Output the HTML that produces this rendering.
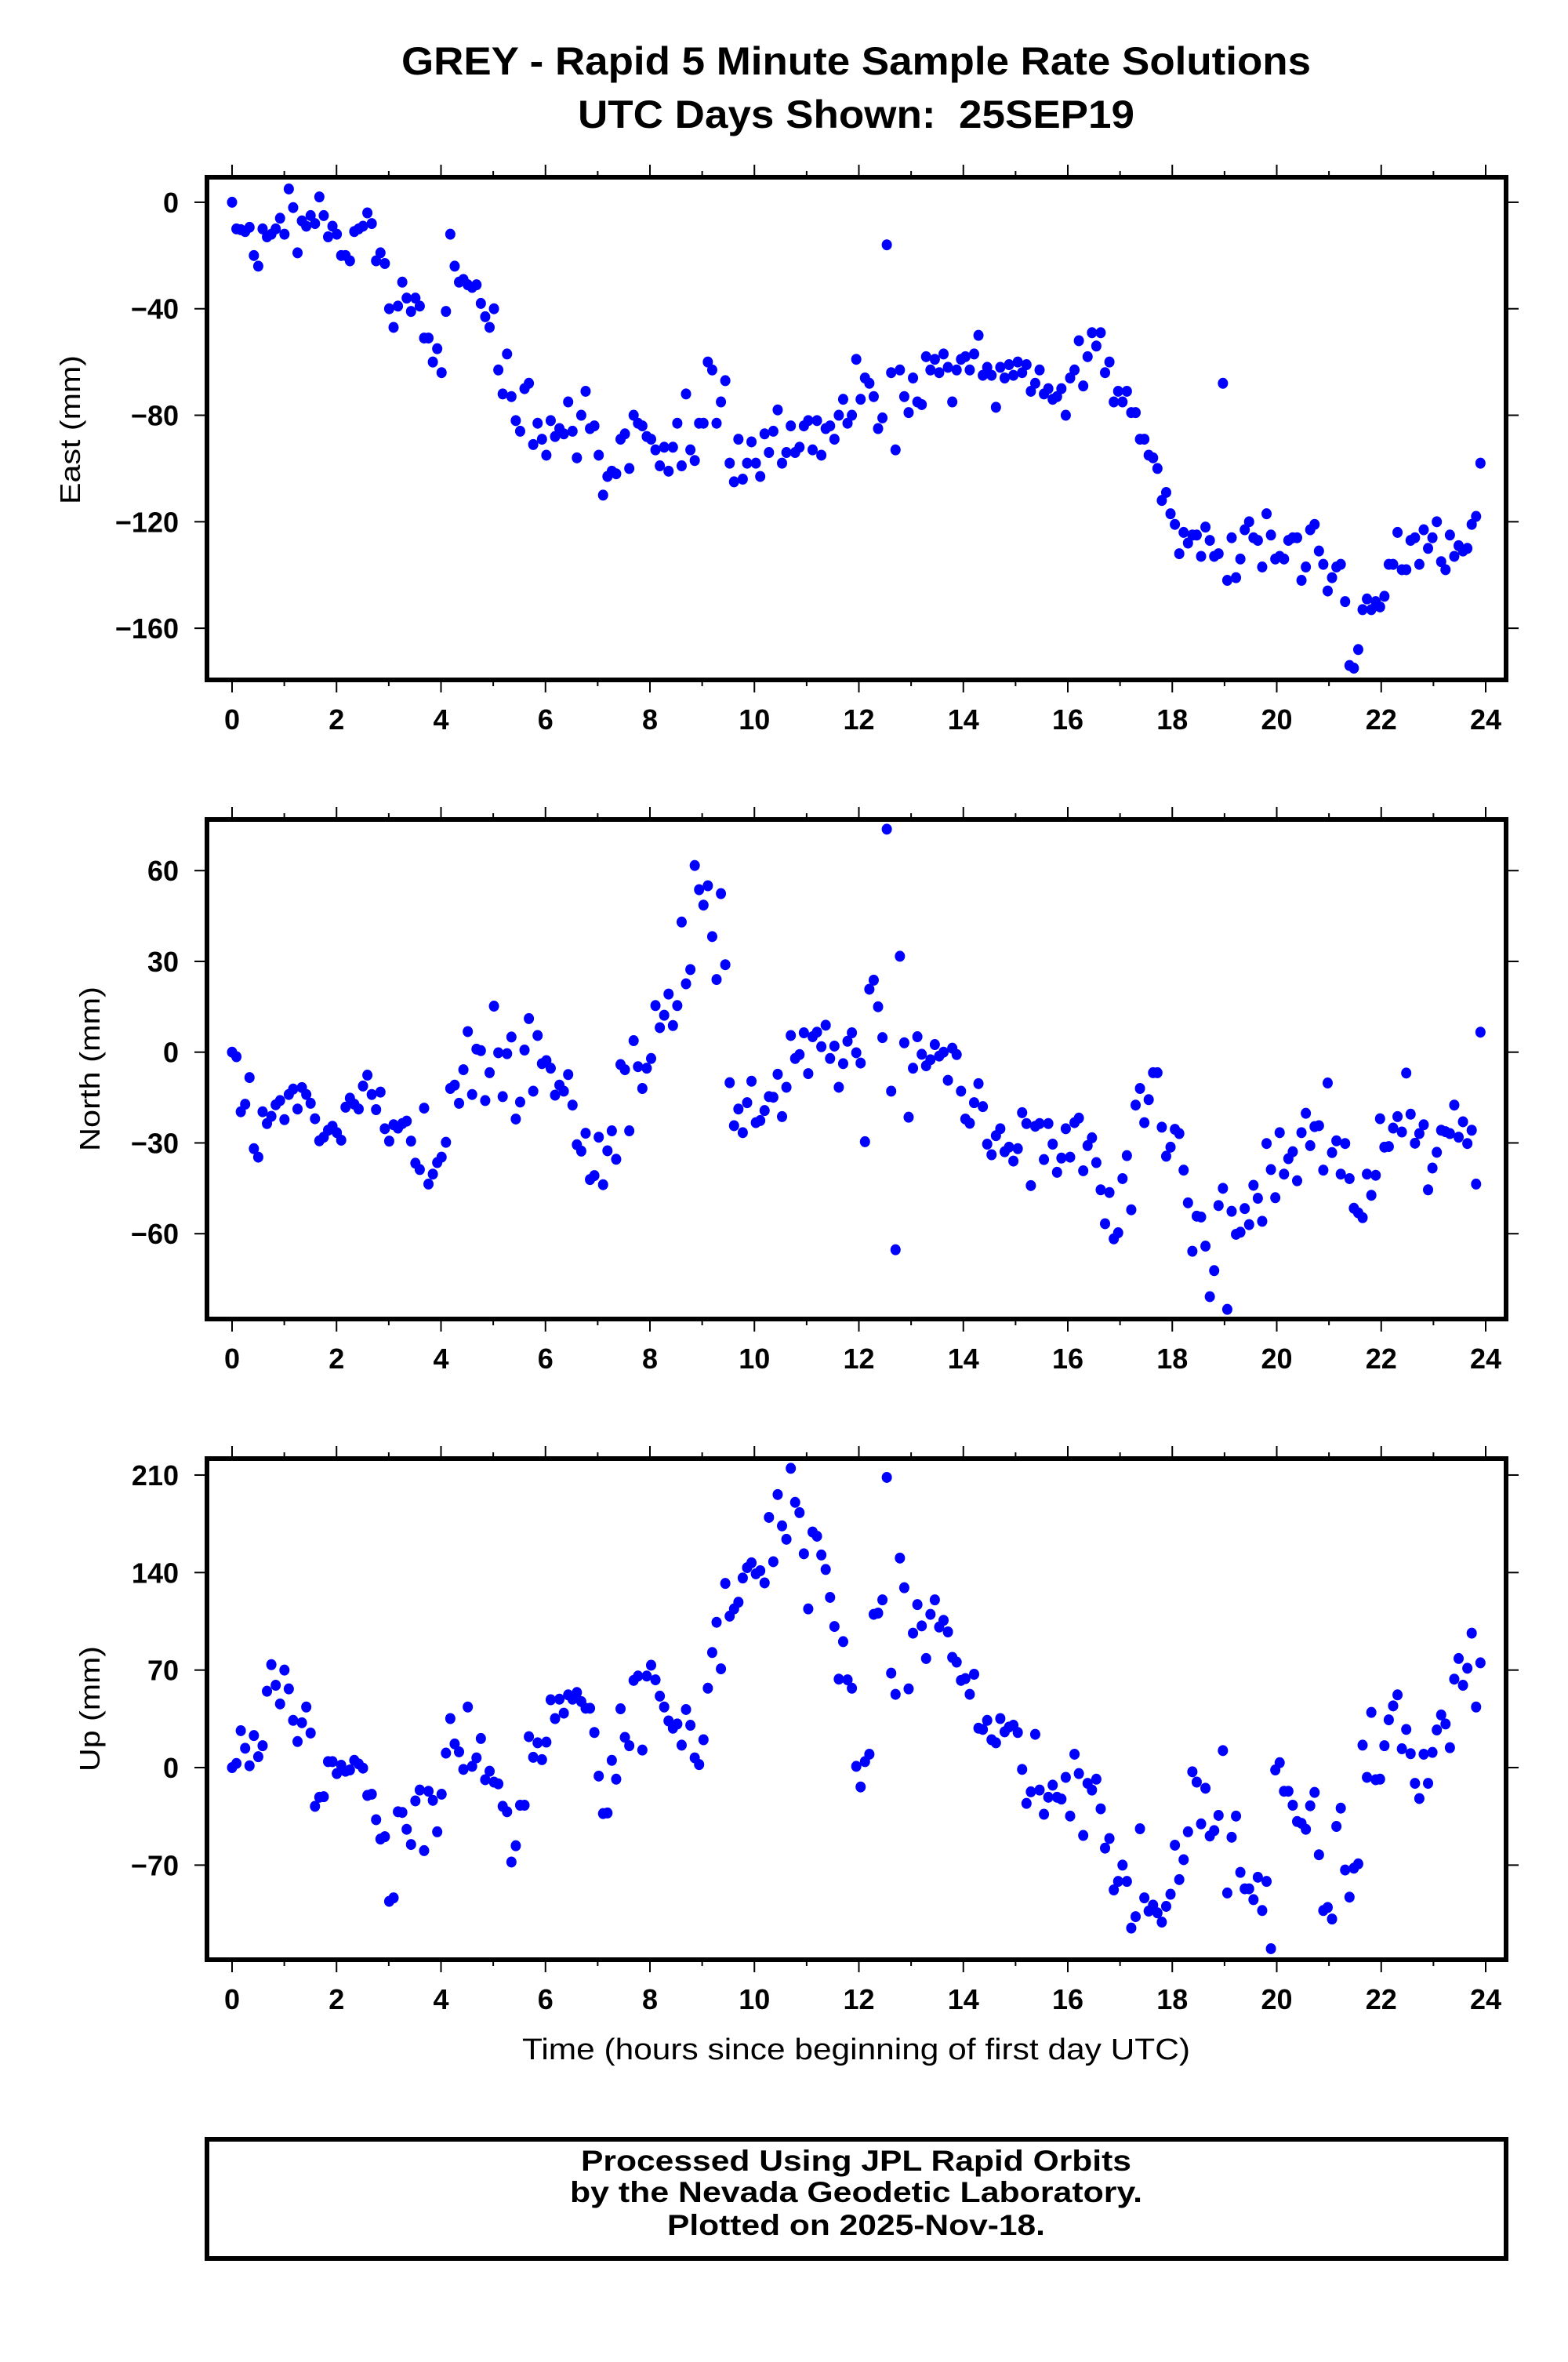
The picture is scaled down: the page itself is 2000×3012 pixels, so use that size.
<!DOCTYPE html>
<html><head><meta charset="utf-8"><style>
html,body{margin:0;padding:0;background:#fff;}
svg{display:block;font-family:"Liberation Sans",Arial,sans-serif;}
</style></head><body>
<svg id="chart" width="2000" height="3012" viewBox="0 0 2000 3012" xmlns="http://www.w3.org/2000/svg">
<rect x="0" y="0" width="2000" height="3012" fill="#fff"/>
<text x="1092" y="95" text-anchor="middle" font-weight="bold" font-size="50" textLength="1160" lengthAdjust="spacingAndGlyphs">GREY - Rapid 5 Minute Sample Rate Solutions</text>
<text x="1092" y="163" text-anchor="middle" font-weight="bold" font-size="50" textLength="710" lengthAdjust="spacingAndGlyphs">UTC Days Shown:&#160; 25SEP19</text>
<text transform="translate(102,548) rotate(-90)" text-anchor="middle" font-size="36" textLength="190" lengthAdjust="spacingAndGlyphs">East (mm)</text>
<text transform="translate(127,1363) rotate(-90)" text-anchor="middle" font-size="36" textLength="210" lengthAdjust="spacingAndGlyphs">North (mm)</text>
<text transform="translate(127,2179) rotate(-90)" text-anchor="middle" font-size="36" textLength="160" lengthAdjust="spacingAndGlyphs">Up (mm)</text>
<text x="1092" y="2626" text-anchor="middle" font-size="38" textLength="852" lengthAdjust="spacingAndGlyphs">Time (hours since beginning of first day UTC)</text>
<rect x="264" y="2728" width="1657" height="152" fill="none" stroke="#000" stroke-width="6"/>
<text x="1092" y="2768" text-anchor="middle" font-weight="bold" font-size="37" textLength="702" lengthAdjust="spacingAndGlyphs">Processed Using JPL Rapid Orbits</text>
<text x="1092" y="2808" text-anchor="middle" font-weight="bold" font-size="37" textLength="730" lengthAdjust="spacingAndGlyphs">by the Nevada Geodetic Laboratory.</text>
<text x="1092" y="2850" text-anchor="middle" font-weight="bold" font-size="37" textLength="482" lengthAdjust="spacingAndGlyphs">Plotted on 2025-Nov-18.</text>
</svg>
<script>
const xTicks = [0,2,4,6,8,10,12,14,16,18,20,22,24];
const eastTicks = [0,-40,-80,-120,-160];
const northTicks = [60,30,0,-30,-60];
const upTicks = [210,140,70,0,-70];
const lastHour = 23.9;
const eastValues = [0,-10,-10.3,-11,-9.4,-20,-24,-10,-13,-12,-10,-6,-12,5,-2,-19,-7,-9,-5,-8,2,-5,-13,-9,-12,-20,-20,-22,-11,-10,-9,-4,-8,-22,-19,-23,-40,-47,-39,-30,-36,-41,-36,-39,-51,-51,-60,-55,-64,-41,-12,-24,-30,-29,-31,-32,-31,-38,-43,-47,-40,-63,-72,-57,-73,-82,-86,-70,-68,-91,-83,-89,-95,-82,-88,-85,-87,-75,-86,-96,-80,-71,-85,-84,-95,-110,-103,-101,-102,-89,-87,-100,-80,-83,-84,-88,-89,-93,-99,-92,-101,-92,-83,-99,-72,-93,-97,-83,-83,-60,-63,-83,-75,-67,-98,-105,-89,-104,-98,-90,-98,-103,-87,-94,-86,-78,-98,-94,-84,-94,-92,-84,-82,-93,-82,-95,-85,-84,-89,-80,-74,-83,-80,-59,-74,-66,-68,-73,-85,-81,-16,-64,-93,-63,-73,-79,-66,-75,-76,-58,-63,-59,-64,-57,-62,-75,-63,-59,-58,-63,-57,-50,-65,-62,-65,-77,-62,-66,-61,-65,-60,-64,-61,-71,-68,-63,-72,-70,-74,-73,-70,-80,-66,-63,-52,-69,-58,-49,-54,-49,-64,-60,-75,-71,-75,-71,-79,-79,-89,-89,-95,-96,-100,-112,-109,-117,-121,-132,-124,-128,-125,-125,-133,-122,-127,-133,-132,-68,-142,-126,-141,-134,-123,-120,-126,-127,-137,-117,-125,-134,-133,-134,-127,-126,-126,-142,-137,-123,-121,-131,-136,-146,-141,-137,-136,-150,-174,-175,-168,-153,-149,-153,-150,-152,-148,-136,-136,-124,-138,-138,-127,-126,-136,-123,-130,-126,-120,-135,-138,-125,-133,-129,-131,-130,-121,-118,-98];
const northValues = [0,-1.5,-19.7,-17.2,-8.4,-31.9,-34.7,-19.7,-23.6,-21.2,-17.4,-16,-22.3,-14,-12.2,-18.8,-11.7,-14,-16.9,-22,-29.3,-28.1,-25.8,-24.5,-26.6,-29.1,-18.2,-15.2,-17.2,-18.8,-11.2,-7.6,-14,-19,-13.2,-25.3,-29.4,-24,-25.1,-23.6,-22.8,-29.4,-36.7,-38.8,-18.5,-43.6,-40.3,-36.5,-34.7,-29.8,-12,-10.9,-16.9,-5.8,6.8,-14,1,0.5,-16,-6.8,15.2,-0.2,-14.7,-0.5,5,-22.1,-16.5,0.7,11.1,-12.9,5.5,-3.8,-2.8,-5.3,-14.2,-10.9,-12.9,-7.4,-17.5,-30.6,-32.7,-26.8,-42.1,-40.8,-28.1,-43.8,-32.6,-26,-35.4,-4.1,-5.8,-26,3.8,-4.8,-12,-5.3,-2.1,15.4,8.1,12.2,19.2,8.8,15.4,43,22.6,27.3,61.7,53.7,48.6,55,38.2,24,52.4,28.9,-10.1,-24.3,-18.8,-26.6,-16.7,-9.6,-23.3,-22.6,-19.3,-14.7,-14.9,-7.3,-21.3,-11.6,5.5,-2.1,-0.8,6.4,-7.1,5.1,6.6,1.8,8.9,-2.1,2,-11.6,-3.8,3.6,6.4,-0.2,-3.6,-29.6,20.8,23.8,15,4.8,73.7,-12.9,-65.3,31.7,3.1,-21.5,-5.3,5.1,-0.7,-4.5,-2.5,2.5,-1.3,0,-9.3,1.3,-0.8,-12.9,-22.1,-23.5,-16.7,-10.4,-18,-30.4,-33.9,-27.6,-25.3,-32.9,-31.4,-36,-31.9,-20,-23.6,-44.1,-24.5,-23.6,-35.5,-23.6,-30.4,-39.7,-35,-25.3,-34.7,-23.3,-21.8,-39.2,-30.9,-28.3,-36.5,-45.5,-56.7,-46.4,-61.7,-59.7,-41.8,-34.2,-52.1,-17.5,-12,-23.3,-15.7,-6.8,-6.8,-24.8,-34.4,-31.4,-25.5,-26.9,-39,-49.8,-65.8,-54.2,-54.5,-64.1,-80.8,-72.2,-50.7,-45,-85,-52.6,-60.2,-59.5,-51.7,-57,-44,-48.3,-55.9,-30.2,-38.8,-48.1,-26.6,-40.3,-35.2,-32.9,-42.5,-26.6,-20.2,-30.9,-24.6,-24.3,-39,-10.2,-33.2,-29.3,-40.3,-30.2,-41.8,-51.6,-53.1,-54.7,-40.3,-47.3,-40.7,-22,-31.4,-31.2,-25.1,-21.3,-26.4,-6.9,-20.5,-30.1,-26.9,-24,-45.5,-38.3,-33.1,-25.8,-26.3,-26.9,-17.5,-28.1,-23,-30.2,-25.8,-43.6,6.6];
const upValues = [0,3,26.5,13.9,1.3,23,7.8,15.7,54.8,73.9,59.1,45.7,70,56.5,33.9,18.7,32.2,43.5,24.8,-27.8,-21.3,-20.9,4.3,4.3,-4.3,1.7,-2.6,-1.7,5.2,2.6,-0.4,-20,-19.1,-37.4,-51.3,-49.6,-96,-93.5,-31.7,-32.2,-44.3,-55.2,-23.9,-16.1,-59.6,-17,-23.5,-46.1,-19.1,10.4,35.2,17,11.3,-1.3,43.5,0.9,7,20.9,-8.7,-2.6,-10.4,-11.7,-27.8,-31.7,-67.8,-56.1,-27,-27,22.2,7.4,17.8,5.7,18.3,48.7,35.2,49.1,39.1,52.2,49.1,53.9,47.4,42.6,42.6,25.2,-6.1,-33,-32.6,5.2,-8.3,42.2,21.7,15.7,62.6,65.7,12.6,65.7,73.5,63,51.3,43.5,33.5,28.3,31.3,16.1,41.7,30.4,7,2.2,20,57,82.6,104.3,70.9,132.2,108.7,113.9,118.7,136.1,143.5,147,139.1,141.3,132.6,179.6,147.8,196,173.5,163.9,214.8,190.4,183,153.5,113.9,169.1,166.1,152.6,142.2,122.2,101.3,63.5,90.4,63,57,0.9,-13.9,4.3,9.6,110,110.9,120.4,208.3,67.8,52.6,150.4,129.1,56.5,96.5,117,101.7,78.3,110,120.4,100.9,105.7,97.4,79.1,75.7,62.6,63.9,52.6,67,28.3,27.4,33.9,20,17.8,35.2,25.7,29.1,30.4,25.2,-1.3,-25.7,-17.4,23.9,-16.1,-33.5,-21.3,-12.6,-21.3,-22.6,-7,-34.8,9.6,-4.3,-48.7,-11.3,-16.1,-8.3,-29.6,-57.8,-50.9,-87.8,-81.7,-70,-81.7,-115.2,-107,-43.9,-93.5,-103,-98.7,-104.3,-110.9,-99.6,-90.9,-55.7,-80.4,-66.1,-46.1,-3,-10.4,-40.4,-14.8,-49.1,-45.2,-34.3,12.2,-90,-50,-34.8,-75.2,-87,-87,-94.8,-78.7,-102.6,-81.7,-130,-1.7,3.5,-17,-17,-27,-38.7,-40,-44.3,-27.4,-17.8,-62.6,-102.6,-100.4,-108.7,-42.2,-29.1,-73.5,-93,-72.2,-69.1,16.1,-7,39.6,-8.7,-8.3,15.7,34.3,44.3,52.2,13.5,27.4,10,-11.3,-22.2,9.6,-11.3,10.9,27,37.8,31.3,14.3,63.5,78.3,59.1,71.3,96.5,43.5,75.2];

const NS = 'http://www.w3.org/2000/svg';
const svg = document.getElementById('chart');
const BOX_L = 264, BOX_R = 1921;
function xScale(h){ return 296 + h * (1895 - 296) / 24; }

function drawPanel(key, top, bottom, yMax, yMin, yTicks, values){
  const yScale = v => top + (yMax - v) * (bottom - top) / (yMax - yMin);
  const g = document.createElementNS(NS, 'g');
  
  
  svg.appendChild(g);
  function add(tag, attrs){ const e = document.createElementNS(NS, tag); for (const k in attrs) e.setAttribute(k, attrs[k]); g.appendChild(e); return e; }
  for (let h = 0; h <= 24; h++) {
    const major = h % 2 === 0;
    const len = major ? 16 : 8;
    const x = xScale(h);
    const t1 = add('line', {x1:x, x2:x, y1:top - len, y2:top, stroke:'#000', 'stroke-width':2});
    
    
    const t2 = add('line', {x1:x, x2:x, y1:bottom, y2:bottom + len, stroke:'#000', 'stroke-width':2});
    
    
  }
  xTicks.forEach(h => {
    const t = add('text', {x:xScale(h), y:bottom + 63, 'text-anchor':'middle', 'font-weight':'bold', 'font-size':36});
    t.textContent = h;
    
    
  });
  yTicks.forEach(v => {
    const y = yScale(v);
    const l1 = add('line', {x1:BOX_L - 16, x2:BOX_L, y1:y, y2:y, stroke:'#000', 'stroke-width':2});
    
    
    const l2 = add('line', {x1:BOX_R, x2:BOX_R + 16, y1:y, y2:y, stroke:'#000', 'stroke-width':2});
    
    
    const t = add('text', {x:228, y:y + 13, 'text-anchor':'end', 'font-weight':'bold', 'font-size':36});
    t.textContent = (v < 0 ? '\u2212' + Math.abs(v) : String(v));
    
    
  });
  const step = lastHour / (values.length - 1);
  values.forEach((v, i) => {
    const c = add('ellipse', {cx:xScale(i * step), cy:yScale(v), rx:6.5, ry:7, fill:'#0000ff'});
    
    
  });
  const box = add('rect', {x:BOX_L, y:top, width:BOX_R - BOX_L, height:bottom - top, fill:'none', stroke:'#000', 'stroke-width':6});
  
  
}
drawPanel('east', 226, 867, 9.4, -179.4, eastTicks, eastValues);
drawPanel('north', 1045, 1682, 76.9, -88.2, northTicks, northValues);
drawPanel('up', 1860, 2499, 221.8, -137.9, upTicks, upValues);
</script>
</body></html>
